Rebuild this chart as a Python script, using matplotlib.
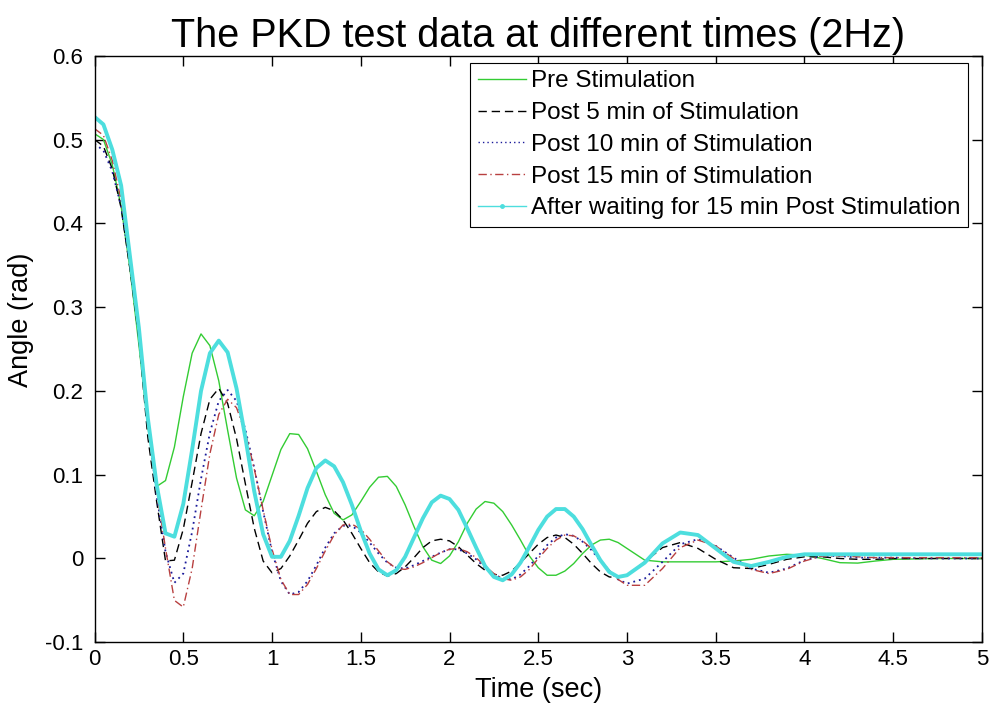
import numpy as np
import matplotlib
matplotlib.use("Agg")
import matplotlib.pyplot as plt
from matplotlib.lines import Line2D

plt.rcParams["font.family"] = ["Liberation Sans", "DejaVu Sans"]

# ---- data (time in s, angle in rad) ----
t = [0.00, 0.05, 0.10, 0.15, 0.20, 0.25, 0.30, 0.35, 0.40, 0.45,
     0.50, 0.55, 0.60, 0.65, 0.70, 0.75, 0.80, 0.85, 0.90, 0.95,
     1.00, 1.05, 1.10, 1.15, 1.20, 1.25, 1.30, 1.35, 1.40, 1.45,
     1.50, 1.55, 1.60, 1.65, 1.70, 1.75, 1.80, 1.85, 1.90, 1.95,
     2.00, 2.05, 2.10, 2.15, 2.20, 2.25, 2.30, 2.35, 2.40, 2.45,
     2.50, 2.55, 2.60, 2.65, 2.70, 2.75, 2.80, 2.85, 2.90, 2.95,
     3.00, 3.10, 3.20, 3.30, 3.40, 3.50, 3.60, 3.70, 3.80, 3.90,
     4.00, 4.10, 4.20, 4.30, 4.40, 4.50, 4.75, 5.00]

pre = [0.507, 0.500, 0.470, 0.420, 0.345, 0.255, 0.158, 0.086, 0.093, 0.133,
       0.193, 0.245, 0.268, 0.254, 0.212, 0.153, 0.096, 0.058, 0.051, 0.068,
       0.099, 0.130, 0.149, 0.148, 0.131, 0.104, 0.076, 0.054, 0.046, 0.052,
       0.068, 0.085, 0.097, 0.098, 0.086, 0.064, 0.038, 0.014, -0.002, -0.006,
       0.003, 0.020, 0.042, 0.059, 0.068, 0.066, 0.056, 0.040, 0.022, 0.003,
       -0.011, -0.020, -0.020, -0.015, -0.006, 0.006, 0.016, 0.022, 0.023, 0.019,
       0.012, -0.002, -0.004, -0.004, -0.004, -0.004, -0.003, -0.001, 0.003, 0.005,
       0.004, 0.000, -0.005, -0.0055, -0.003, -0.001, 0.000, 0.000]

post5 = [0.500, 0.492, 0.465, 0.418, 0.345, 0.262, 0.145, 0.068, -0.003, -0.002,
         0.035, 0.091, 0.149, 0.190, 0.203, 0.185, 0.143, 0.089, 0.036, -0.003,
         -0.017, -0.012, 0.003, 0.022, 0.042, 0.056, 0.061, 0.057, 0.046, 0.030,
         0.012, -0.005, -0.016, -0.021, -0.018, -0.010, 0.001, 0.013, 0.021, 0.023,
         0.021, 0.014, 0.004, -0.006, -0.014, -0.019, -0.020, -0.015, -0.005, 0.006,
         0.017, 0.025, 0.028, 0.025, 0.017, 0.006, -0.006, -0.016, -0.022, -0.023,
         -0.020, -0.004, 0.013, 0.019, 0.012, -0.001, -0.011, -0.012, -0.007, -0.001,
         0.002, 0.002, 0.000, -0.001, -0.001, 0.000, 0.000, 0.000]

post10 = [0.495, 0.487, 0.462, 0.420, 0.350, 0.272, 0.165, 0.075, 0.008, -0.029,
          -0.018, 0.032, 0.095, 0.150, 0.188, 0.201, 0.188, 0.154, 0.108, 0.056,
          0.008, -0.027, -0.043, -0.040, -0.027, -0.008, 0.013, 0.030, 0.039, 0.039,
          0.031, 0.019, 0.006, -0.005, -0.011, -0.012, -0.008, -0.003, 0.002, 0.007,
          0.011, 0.011, 0.006, -0.001, -0.011, -0.019, -0.024, -0.025, -0.019, -0.009,
          0.003, 0.016, 0.025, 0.029, 0.027, 0.020, 0.010, -0.003, -0.015, -0.025,
          -0.030, -0.024, -0.004, 0.017, 0.023, 0.015, 0.001, -0.012, -0.017, -0.012,
          -0.002, 0.003, 0.003, 0.001, 0.001, 0.001, 0.000, 0.000]

post15 = [0.513, 0.505, 0.475, 0.428, 0.355, 0.275, 0.170, 0.080, 0.012, -0.050,
          -0.058, -0.012, 0.058, 0.125, 0.172, 0.190, 0.180, 0.150, 0.107, 0.058,
          0.011, -0.025, -0.043, -0.043, -0.031, -0.012, 0.009, 0.028, 0.040, 0.041,
          0.035, 0.023, 0.009, -0.004, -0.012, -0.013, -0.010, -0.005, 0.001, 0.007,
          0.011, 0.012, 0.008, 0.001, -0.009, -0.018, -0.024, -0.026, -0.022, -0.013,
          0.000, 0.012, 0.022, 0.028, 0.027, 0.021, 0.012, -0.001, -0.014, -0.025,
          -0.032, -0.032, -0.012, 0.013, 0.022, 0.015, 0.000, -0.013, -0.018, -0.013,
          -0.003, 0.003, 0.003, 0.002, 0.001, 0.001, 0.001, 0.001]

after = [0.527, 0.518, 0.488, 0.445, 0.360, 0.275, 0.168, 0.088, 0.030, 0.026,
         0.065, 0.130, 0.200, 0.245, 0.260, 0.246, 0.203, 0.144, 0.080, 0.029,
         0.002, 0.002, 0.021, 0.051, 0.084, 0.108, 0.117, 0.110, 0.091, 0.064,
         0.033, 0.006, -0.013, -0.020, -0.014, 0.002, 0.025, 0.048, 0.067, 0.075,
         0.071, 0.058, 0.036, 0.013, -0.009, -0.022, -0.026, -0.019, -0.005, 0.014,
         0.034, 0.050, 0.059, 0.059, 0.050, 0.035, 0.016, -0.002, -0.016, -0.022,
         -0.020, -0.005, 0.018, 0.031, 0.028, 0.012, -0.004, -0.009, -0.004, 0.002,
         0.005, 0.005, 0.005, 0.005, 0.005, 0.005, 0.005, 0.005]

labels = ["Pre Stimulation", "Post 5 min of Stimulation", "Post 10 min of Stimulation",
          "Post 15 min of Stimulation", "After waiting for 15 min Post Stimulation"]
xticks = [0, 0.5, 1, 1.5, 2, 2.5, 3, 3.5, 4, 4.5, 5]
yticks = [-0.1, 0, 0.1, 0.2, 0.3, 0.4, 0.5, 0.6]

C_PRE, C_P5, C_P10, C_P15, C_AFT = "#33cc33", "black", "#1a1a9a", "#b84040", "#4ddede"
D_P5, D_P10, D_P15 = (6, 3.5), (1, 2.2), (6, 2.5, 1, 2.5)

fig = plt.figure(figsize=(9.94, 7.09), dpi=100)
ax = fig.add_axes([0.0951, 0.0941, 0.8928, 0.8273])

ax.plot(t, pre, color=C_PRE, lw=1.0, solid_joinstyle="round")
ax.plot(t, post5, color=C_P5, lw=1.0, dashes=D_P5)
ax.plot(t, post10, color=C_P10, lw=1.3, dashes=D_P10)
ax.plot(t, post15, color=C_P15, lw=1.0, dashes=D_P15)
ax.plot(t, after, color=C_AFT, lw=2.8, solid_joinstyle="round", solid_capstyle="round")

ax.set_xlim(0, 5)
ax.set_ylim(-0.1, 0.6)
ax.set_xticks(xticks, [f"{v:g}" for v in xticks])
ax.set_yticks(yticks, [f"{v:g}" for v in yticks])
ax.tick_params(direction="in", top=True, right=True, length=7, width=1.0,
               labelsize=16)
ax.tick_params(axis="y", pad=8)
ax.tick_params(axis="x", pad=5)
for s in ax.spines.values():
    s.set_linewidth(1.0)

ax.set_title("The PKD test data at different times (2Hz)", fontsize=28.5, pad=6)
ax.set_xlabel("Time (sec)", fontsize=19.5, labelpad=5)
ax.set_ylabel("Angle (rad)", fontsize=19.5, labelpad=4)
ax.yaxis.set_label_coords(-0.068, 0.55)

handles = [Line2D([], [], color=C_PRE, lw=1.0),
           Line2D([], [], color=C_P5, lw=1.0, dashes=D_P5),
           Line2D([], [], color=C_P10, lw=1.0, dashes=D_P10),
           Line2D([], [], color=C_P15, lw=1.0, dashes=D_P15),
           Line2D([], [], color=C_AFT, lw=1.0, marker=".", ms=5)]
leg = ax.legend(handles, labels, loc="upper right",
                bbox_to_anchor=(968 / 994, 1 - 63 / 709),
                bbox_transform=fig.transFigure, borderaxespad=0, fancybox=False,
                edgecolor="black", framealpha=1, fontsize=17.5, handlelength=2.0,
                handletextpad=0.2, labelspacing=0.4, borderpad=0.3)
leg.get_frame().set_linewidth(0.8)

fig.savefig("out.png", dpi=100)
